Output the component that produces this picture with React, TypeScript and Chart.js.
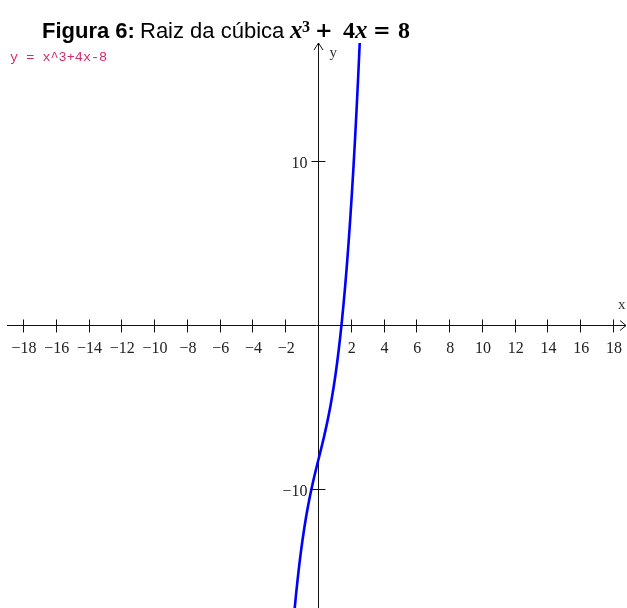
import { useEffect, useRef } from "react";
import { Chart, registerables } from "chart.js";

Chart.register(...registerables);

// Sampled points of y = x^3 + 4x - 8 across the visible window
const curveX = [
  -1.8, -1.7, -1.6, -1.5, -1.4, -1.3, -1.2, -1.1, -1.0, -0.9, -0.8, -0.7, -0.6, -0.5,
  -0.4, -0.3, -0.2, -0.1, 0.0, 0.1, 0.2, 0.3, 0.4, 0.5, 0.6, 0.7, 0.8, 0.9, 1.0, 1.1,
  1.2, 1.3, 1.4, 1.5, 1.6, 1.7, 1.8, 1.9, 2.0, 2.1, 2.2, 2.3, 2.4, 2.5, 2.6,
];
const curveY = [
  -21.032, -19.713, -18.496, -17.375, -16.344, -15.397, -14.528, -13.731, -13.0, -12.329,
  -11.712, -11.143, -10.616, -10.125, -9.664, -9.227, -8.808, -8.401, -8.0, -7.599,
  -7.192, -6.773, -6.336, -5.875, -5.384, -4.857, -4.288, -3.671, -3.0, -2.269,
  -1.472, -0.603, 0.344, 1.375, 2.496, 3.713, 5.032, 6.459, 8.0, 9.661,
  11.448, 13.367, 15.424, 17.625, 19.976,
];

const xTickValues = [-18, -16, -14, -12, -10, -8, -6, -4, -2, 2, 4, 6, 8, 10, 12, 14, 16, 18];
const yTickValues = [-10, 10];

const xRange = [-19.036, 18.79];
const yRange = [-17.195, 17.256];

const titleBold = "Figura 6:";
const titleText = "Raiz da cúbica";
const functionLabel = "y = x^3+4x-8";

const fmt = (v: number) => (v < 0 ? "\u2212" + Math.abs(v) : String(v));

const axesPlugin = {
  id: "centerAxes",
  beforeDatasetsDraw(chart: any) {
    const { ctx, scales, width, height } = chart;
    const xs = scales.x;
    const ys = scales.y;
    const ox = Math.round(xs.getPixelForValue(0)) - 0.5;
    const oy = Math.round(ys.getPixelForValue(0)) - 0.5;
    ctx.save();
    ctx.strokeStyle = "#111";
    ctx.lineWidth = 1;
    ctx.beginPath();
    // horizontal axis
    ctx.moveTo(chart.chartArea.left, oy);
    ctx.lineTo(width - 1, oy);
    // arrow head
    ctx.moveTo(width - 7, oy - 5);
    ctx.lineTo(width - 1, oy);
    ctx.lineTo(width - 7, oy + 5);
    // vertical axis
    const top = chart.chartArea.top;
    ctx.moveTo(ox, height);
    ctx.lineTo(ox, top);
    ctx.moveTo(ox - 4.5, top + 7);
    ctx.lineTo(ox, top);
    ctx.lineTo(ox + 4.5, top + 7);
    // tick marks
    for (const v of xTickValues) {
      const px = Math.round(xs.getPixelForValue(v)) - 0.5;
      ctx.moveTo(px, oy - 6);
      ctx.lineTo(px, oy + 7);
    }
    for (const v of yTickValues) {
      const py = Math.round(ys.getPixelForValue(v)) - 0.5;
      ctx.moveTo(ox - 7, py);
      ctx.lineTo(ox + 7, py);
    }
    ctx.stroke();

    // tick labels
    ctx.fillStyle = "#222";
    ctx.font = '16px "Liberation Serif"';
    ctx.textBaseline = "alphabetic";
    ctx.textAlign = "center";
    for (const v of xTickValues) {
      ctx.fillText(fmt(v), xs.getPixelForValue(v), oy + 27);
    }
    ctx.textAlign = "right";
    for (const v of yTickValues) {
      ctx.fillText(fmt(v), ox - 11, ys.getPixelForValue(v) + 6);
    }

    // axis names
    ctx.font = '15px "Liberation Serif"';
    ctx.textAlign = "left";
    ctx.fillStyle = "#333";
    ctx.fillText("y", ox + 11, top + 14);
    ctx.fillText("x", width - 9, oy - 17);
    ctx.restore();
  },
  afterDraw(chart: any) {
    const { ctx } = chart;
    ctx.save();
    ctx.textBaseline = "alphabetic";
    ctx.textAlign = "left";
    ctx.fillStyle = "#000";
    ctx.font = 'bold 22px "Liberation Sans"';
    ctx.fillText(titleBold, 42, 38);
    ctx.font = '22px "Liberation Sans"';
    ctx.fillText(titleText, 140, 38);

    // x³ + 4x = 8
    ctx.font = 'italic bold 25px "Liberation Serif"';
    ctx.fillText("x", 290, 38);
    ctx.font = 'bold 16px "Liberation Serif"';
    ctx.fillText("3", 302, 32);
    ctx.font = 'bold 21px "DejaVu Serif"';
    ctx.fillText("+", 315, 37);
    ctx.font = 'bold 24px "Liberation Serif"';
    ctx.fillText("4", 343, 38);
    ctx.font = 'italic bold 25px "Liberation Serif"';
    ctx.fillText("x", 355, 38);
    ctx.font = 'bold 21px "DejaVu Serif"';
    ctx.fillText("=", 373, 37);
    ctx.font = 'bold 24px "Liberation Serif"';
    ctx.fillText("8", 398, 38);

    // function legend
    ctx.fillStyle = "#d42a6a";
    ctx.font = '13.5px "Liberation Mono"';
    ctx.fillText(functionLabel, 10, 61);
    ctx.restore();
  },
};

export default function App() {
  const canvasRef = useRef<HTMLCanvasElement | null>(null);

  useEffect(() => {
    const canvas = canvasRef.current;
    if (!canvas) return;
    const chart = new Chart(canvas, {
      type: "scatter",
      data: {
        datasets: [
          {
            label: functionLabel,
            data: curveX.map((x, i) => ({ x, y: curveY[i] })),
            showLine: true,
            borderColor: "#0000ff",
            borderWidth: 2.6,
            pointRadius: 0,
            tension: 0,
          },
        ],
      },
      options: {
        responsive: false,
        animation: false,
        devicePixelRatio: 1,
        layout: { padding: { left: 7, right: 0, top: 43, bottom: 0 } },
        scales: {
          x: { type: "linear", min: xRange[0], max: xRange[1], display: false },
          y: { type: "linear", min: yRange[0], max: yRange[1], display: false },
        },
        plugins: {
          legend: { display: false },
          tooltip: { enabled: false },
          title: { display: false },
        },
      },
      plugins: [axesPlugin],
    });
    return () => chart.destroy();
  }, []);

  return (
    <div style={{ position: "absolute", left: 0, top: 0, width: 627, height: 608, background: "#fff" }}>
      <canvas ref={canvasRef} width={627} height={608} style={{ display: "block" }} />
    </div>
  );
}
